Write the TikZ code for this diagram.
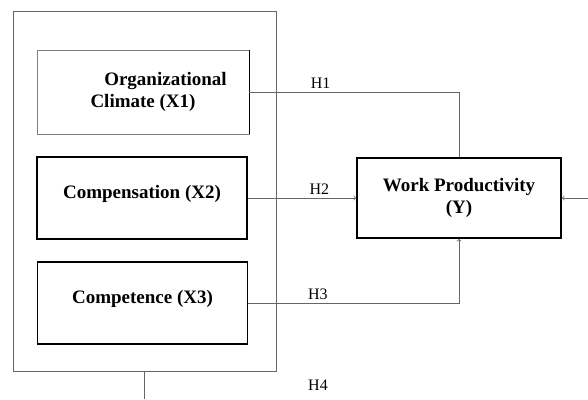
\documentclass[tikz,border=0pt]{standalone}
\usepackage{fontspec}
\setmainfont{Liberation Serif}
\usepackage{tikz}

\tikzset{
  varbox/.style={draw=black, line width=1.8pt, minimum width=210pt, minimum height=82pt,
                 font=\fontsize{19}{22}\selectfont\bfseries, align=center},
  link/.style={draw=black!60, line width=0.8pt},
  hlabel/.style={font=\fontsize{16}{18}\selectfont}
}

\begin{document}
\begin{tikzpicture}[x=1pt, y=-1pt]
        \useasboundingbox (0,0) rectangle (588,399);

        % independent variables
        \node[draw=black!60, line width=0.8pt, minimum width=263pt, minimum height=360pt] (grp) at (144.5,191) {};
        \node[varbox, draw=black!50, line width=0.7pt, minimum width=212pt, minimum height=84pt] (x1) at (143,92)
          {\hspace*{45pt}Organizational\\Climate (X1)};
        \draw[line width=1.4pt] (x1.north east) -- (x1.south east);
        \node[varbox] (x2) at (142,198) {Compensation (X2)\\[-10pt]};
        \node[varbox] (x3) at (142.5,303) {Competence (X3)\\[-10pt]};

        % dependent variable
        \node[varbox, minimum width=204pt, minimum height=80pt] (wp) at (459,198)
          {Work Productivity\\(Y)};

        \coordinate (rin) at (588,198);
        \coordinate (h4end) at (144.5,399);

        \draw[link] (x1.east) -| node[pos=0.17, above, hlabel] {H1} (wp.north);
        \draw[link, ->] (x2.east) -- node[pos=0.66, above, hlabel] {H2} (wp.west);
        \draw[link, ->] (x3.east) -| node[pos=0.165, above, hlabel] {H3} (wp.south);
        \draw[link, ->] (rin) -- (wp.east);
        \draw[link] (grp.south) -- (h4end);
        \node[hlabel] (h4) at (318,385) {H4};
      \end{tikzpicture}
\end{document}
